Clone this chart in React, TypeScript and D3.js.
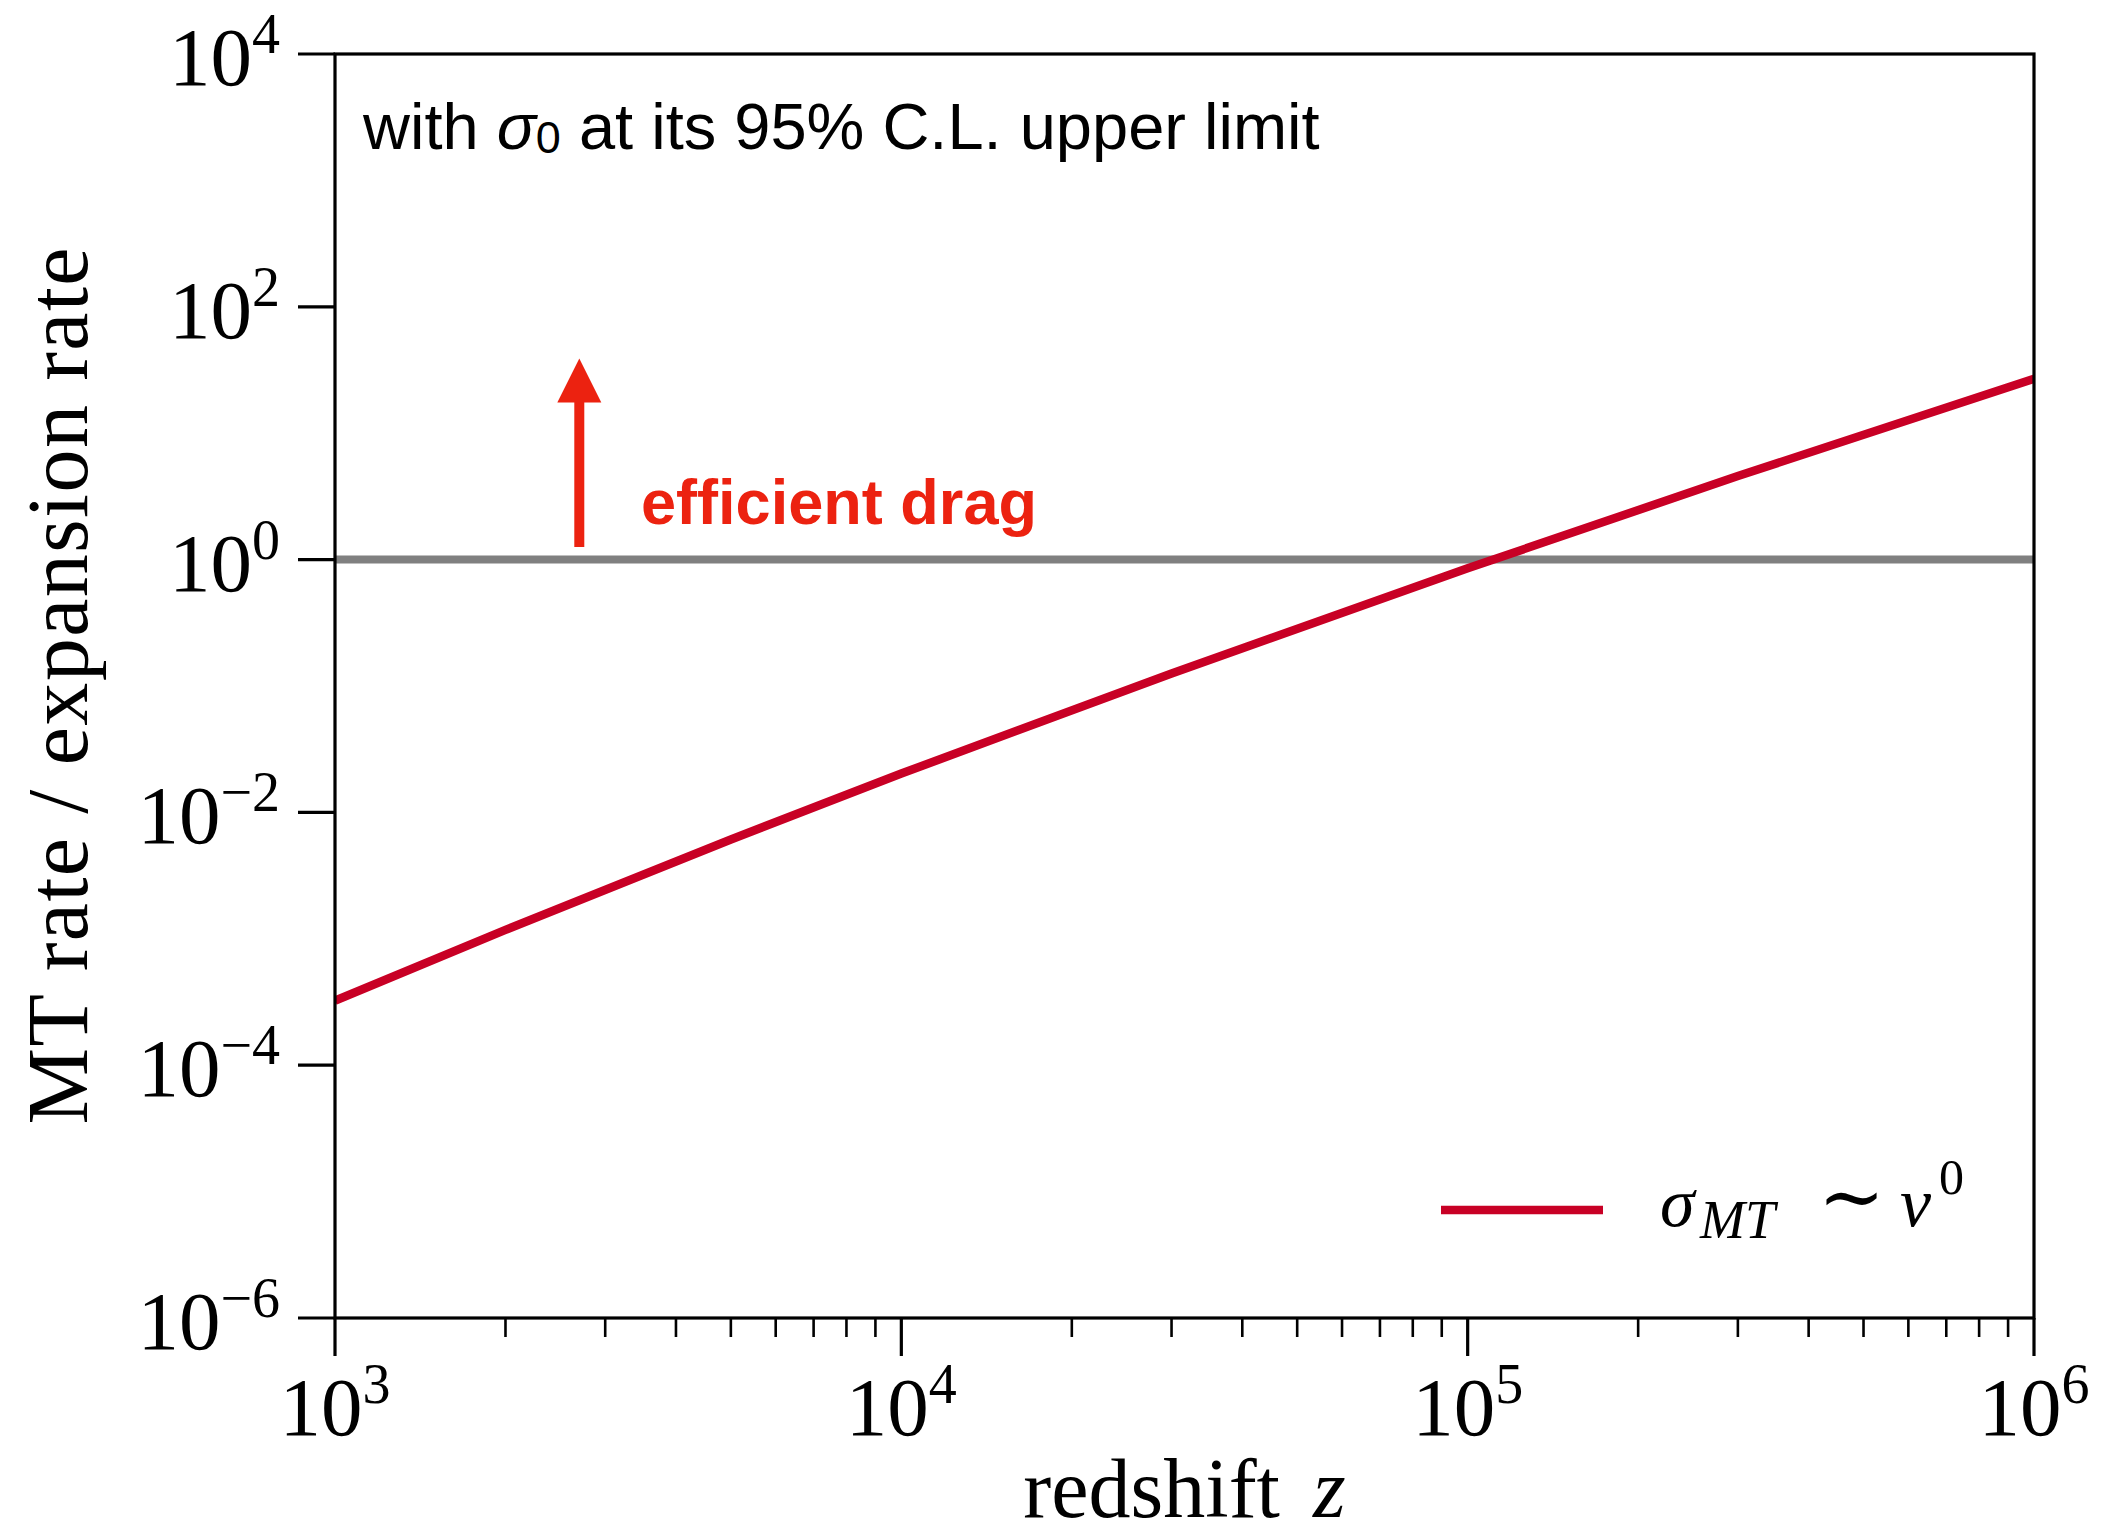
import React from "react";
import * as d3 from "d3";

// ---- data ----
const redshift = [1e3, 2e3, 5e3, 1e4, 3e4, 1e5, 3e5, 1e6];
const mtRate = [3.24e-4, 1.175e-3, 6.11e-3, 0.0203, 0.1256, 0.853, 4.58, 26.9];
const xTickExps = [3, 4, 5, 6];
const yTickExps = [4, 2, 0, -2, -4, -6];
const referenceLevel = 1;
const arrowZ = 2700;
const arrowFrom = 1.26;
const arrowTo = 39;
const legendLabel = "σ_MT ∼ v^0";
const annotation = "efficient drag";

const W = 2101;
const H = 1537;
const M = { left: 335, right: 2034, top: 54, bottom: 1318 };

const RED = "#c80025";
const ARROW_RED = "#ec2210";
const SERIF = "'Liberation Serif', 'DejaVu Serif', serif";
const SANS = "'Liberation Sans', Arial, Helvetica, sans-serif";

function sup(e: number) {
  return e < 0 ? "\u2212" + Math.abs(e) : String(e);
}

export default function App() {
  const x = d3.scaleLog().domain([1e3, 1e6]).range([M.left, M.right]);
  const y = d3.scaleLog().domain([1e-6, 1e4]).range([M.bottom, M.top]);

  const line = d3
    .line<number>()
    .x((_, i) => x(redshift[i]))
    .y((d) => y(d))
    .curve(d3.curveMonotoneX);

  const minorX: number[] = [];
  for (let e = 3; e < 6; e++) {
    for (let k = 2; k <= 9; k++) minorX.push(k * Math.pow(10, e));
  }

  const ax = x(arrowZ);
  const aTop = y(arrowTo);
  const aBot = y(arrowFrom);
  const headLen = 44;
  const headHalf = 22;

  const legY = 1210;

  return (
    <svg
      width={W}
      height={H}
      viewBox={`0 0 ${W} ${H}`}
      style={{ position: "absolute", left: 0, top: 0, background: "#fff" }}
    >
      <rect x={0} y={0} width={W} height={H} fill="#fff" />

      {/* reference line at 1 */}
      <line
        x1={M.left}
        x2={M.right}
        y1={y(referenceLevel)}
        y2={y(referenceLevel)}
        stroke="#808080"
        strokeWidth={8}
      />

      {/* data curve */}
      <clipPath id="plotclip">
        <rect x={M.left} y={M.top} width={M.right - M.left} height={M.bottom - M.top} />
      </clipPath>
      <path
        d={line(mtRate) || ""}
        fill="none"
        stroke={RED}
        strokeWidth={8.5}
        clipPath="url(#plotclip)"
      />

      {/* arrow */}
      <line x1={ax} x2={ax} y1={aBot} y2={aTop + headLen - 2} stroke={ARROW_RED} strokeWidth={10} />
      <path
        d={`M${ax},${aTop} L${ax + headHalf},${aTop + headLen} L${ax - headHalf},${aTop + headLen} Z`}
        fill={ARROW_RED}
      />
      <text
        x={641}
        y={524}
        fontFamily={SANS}
        fontWeight="bold"
        fontSize={63}
        fill={ARROW_RED}
        textLength={396}
        lengthAdjust="spacingAndGlyphs"
      >
        {annotation}
      </text>

      {/* top annotation */}
      <text x={363} y={149} fontFamily={SANS} fontSize={65} fill="#000">
        <tspan>with </tspan>
        <tspan fontStyle="italic">σ</tspan>
        <tspan fontSize={45} dy={4}>0</tspan>
        <tspan dy={-4}> at its 95% C.L. upper limit</tspan>
      </text>

      {/* frame */}
      <rect
        x={M.left}
        y={M.top}
        width={M.right - M.left}
        height={M.bottom - M.top}
        fill="none"
        stroke="#000"
        strokeWidth={3.2}
      />

      {/* y ticks */}
      {yTickExps.map((e) => {
        const yy = y(Math.pow(10, e));
        return (
          <g key={"y" + e}>
            <line x1={M.left - 37} x2={M.left} y1={yy} y2={yy} stroke="#000" strokeWidth={3.2} />
            <text x={280} y={yy + 31} textAnchor="end" fontFamily={SERIF} fontSize={83} fill="#000">
              <tspan>10</tspan>
              <tspan fontSize={56} dy={-32}>{sup(e)}</tspan>
            </text>
          </g>
        );
      })}

      {/* x ticks */}
      {minorX.map((v) => (
        <line
          key={"m" + v}
          x1={x(v)}
          x2={x(v)}
          y1={M.bottom}
          y2={M.bottom + 19}
          stroke="#000"
          strokeWidth={2.6}
        />
      ))}
      {xTickExps.map((e) => {
        const xx = x(Math.pow(10, e));
        return (
          <g key={"x" + e}>
            <line x1={xx} x2={xx} y1={M.bottom} y2={M.bottom + 38} stroke="#000" strokeWidth={3.2} />
            <text x={xx} y={1435} textAnchor="middle" fontFamily={SERIF} fontSize={83} fill="#000">
              <tspan>10</tspan>
              <tspan fontSize={56} dy={-32}>{sup(e)}</tspan>
            </text>
          </g>
        );
      })}

      {/* axis labels */}
      <text
        x={(M.left + M.right) / 2}
        y={1517}
        textAnchor="middle"
        fontFamily={SERIF}
        fontSize={84}
        fill="#000"
      >
        <tspan>redshift </tspan>
        <tspan fontStyle="italic" dx={12}>z</tspan>
      </text>
      <text
        transform={`translate(87, ${(M.top + M.bottom) / 2}) rotate(-90)`}
        textAnchor="middle"
        fontFamily={SERIF}
        fontSize={86}
        fill="#000"
        textLength={877}
        lengthAdjust="spacing"
      >
        MT rate / expansion rate
      </text>

      {/* legend */}
      <line x1={1441} x2={1603} y1={legY} y2={legY} stroke={RED} strokeWidth={8.5} />
      <text y={1226} fontFamily={SERIF} fontSize={70} fill="#000" aria-label={legendLabel}>
        <tspan x={1660} fontStyle="italic">σ</tspan>
        <tspan x={1700} fontStyle="italic" fontSize={54} dy={12}>MT</tspan>
        <tspan x={1818} dy={-14} fontSize={80} fontFamily="'DejaVu Serif', serif" fontWeight="normal">∼</tspan>
        <tspan x={1900} dy={2} fontStyle="italic">v</tspan>
        <tspan x={1939} fontSize={50} dy={-32}>0</tspan>
      </text>
    </svg>
  );
}
